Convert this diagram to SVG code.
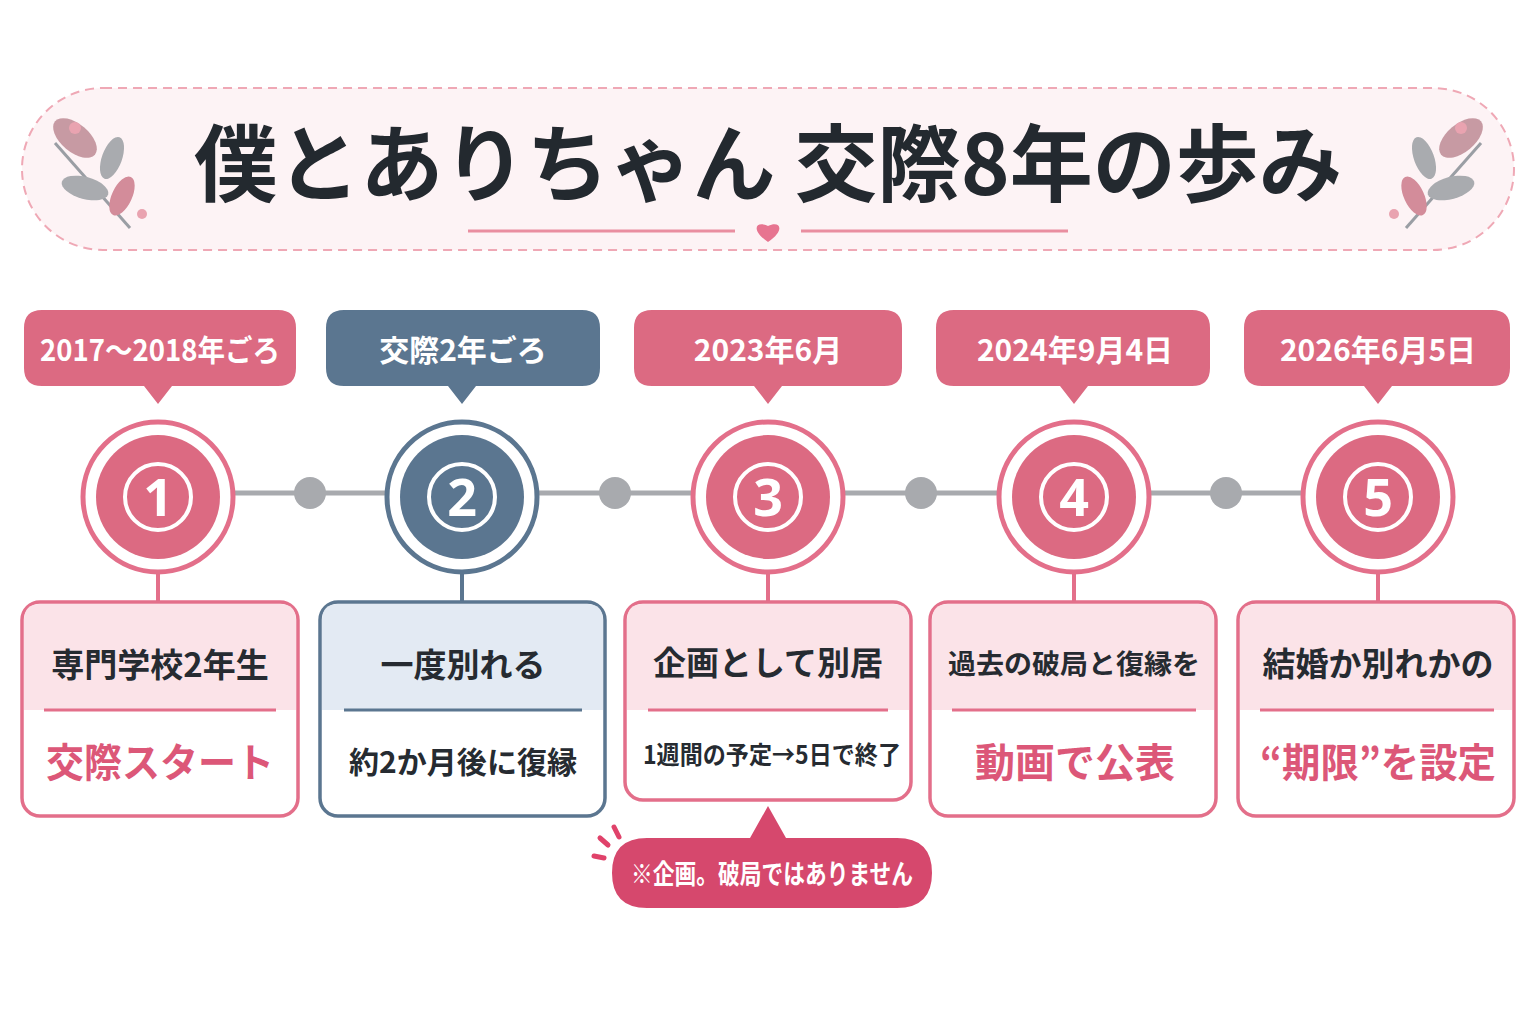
<svg xmlns="http://www.w3.org/2000/svg" width="1536" height="1024" viewBox="0 0 1536 1024">
<defs>
<style>
.jp{font-family:"Noto Sans CJK JP","Noto Sans",sans-serif;font-weight:700;text-anchor:middle}
.tag{fill:#fff;font-size:30px}
.top{fill:#262b31;font-size:33px}
.bot{font-size:40px;fill:#dc5778}
.bots{font-size:30px;fill:#262b31}
.card{fill:#fff;stroke-width:3.5}
.pk{stroke:#e36f8a}
.sl{stroke:#5b7690}
.num{fill:#fff;font-family:"Noto Sans","DejaVu Sans",sans-serif;font-weight:700;font-size:52px;text-anchor:middle}
</style>
<g id="leaf">
<path d="M0,0 L-75,-85" stroke="#9a9ea4" stroke-width="3" fill="none"/>
<ellipse cx="-55" cy="-90" rx="14" ry="26" transform="rotate(-50 -55 -90)" fill="#c79aa3"/>
<ellipse cx="-18" cy="-70" rx="10" ry="22" transform="rotate(20 -18 -70)" fill="#a9abaf"/>
<ellipse cx="-45" cy="-40" rx="11" ry="24" transform="rotate(-75 -45 -40)" fill="#a9abaf"/>
<ellipse cx="-8" cy="-32" rx="10" ry="21" transform="rotate(25 -8 -32)" fill="#d38c9a"/>
<circle cx="-55" cy="-100" r="6" fill="#e9a3b0"/>
<circle cx="12" cy="-14" r="5" fill="#e9a3b0"/>
</g>
</defs>
<rect width="1536" height="1024" fill="#fff"/>
<g id="title">
<rect x="22" y="88" width="1492" height="162" rx="81" fill="#fdf3f5" stroke="#efa8b5" stroke-width="2" stroke-dasharray="9 6"/>
<use href="#leaf" transform="translate(130,228)"/>
<use href="#leaf" transform="translate(1406,228) scale(-1,1)"/>
<text x="768" y="195" class="jp" font-size="84" fill="#23292f" textLength="1148" lengthAdjust="spacingAndGlyphs">僕とありちゃん 交際8年の歩み</text>
<line x1="468" y1="231" x2="735" y2="231" stroke="#e98ea0" stroke-width="3"/>
<line x1="801" y1="231" x2="1068" y2="231" stroke="#e98ea0" stroke-width="3"/>
<path d="M768,242 C750,230 756,220 768,226 C780,220 786,230 768,242Z" fill="#e77490"/>
</g>
<g id="connectors" fill="none">
<line x1="230" y1="493" x2="1306" y2="493" stroke="#a8aaae" stroke-width="5"/>
<g fill="#a8aaae"><circle cx="310" cy="493" r="16"/><circle cx="615" cy="493" r="16"/><circle cx="921" cy="493" r="16"/><circle cx="1226" cy="493" r="16"/></g>
<g stroke-width="4"><line x1="158" y1="570" x2="158" y2="603" stroke="#e36f8a"/><line x1="462" y1="570" x2="462" y2="603" stroke="#5b7690"/><line x1="768" y1="570" x2="768" y2="603" stroke="#e36f8a"/><line x1="1074" y1="570" x2="1074" y2="603" stroke="#e36f8a"/><line x1="1378" y1="570" x2="1378" y2="603" stroke="#e36f8a"/></g>
</g>
<g id="n1">
<path d="M42,310 H278 Q296,310 296,328 V368 Q296,386 278,386 H172 L158,404 L144,386 H42 Q24,386 24,368 V328 Q24,310 42,310Z" fill="#dc6a82"/>
<text x="160" y="361" class="jp tag" textLength="240" lengthAdjust="spacingAndGlyphs">2017〜2018年ごろ</text>
<circle cx="158" cy="497" r="75" fill="#fff" stroke="#e36f8a" stroke-width="5"/>
<circle cx="158" cy="497" r="62" fill="#dc6a82"/>
<circle cx="158" cy="497" r="33" fill="none" stroke="#fff" stroke-width="4"/>
<text x="158" y="516" class="num">1</text>
<rect x="22" y="602" width="276" height="214" rx="18" class="card pk"/>
<path d="M24,710 V620 Q24,604 40,604 H280 Q296,604 296,620 V710Z" fill="#fbe3e8"/>
<line x1="44" y1="710" x2="276" y2="710" stroke="#e36f8a" stroke-width="3"/>
<text x="160" y="677" class="jp top">専門学校2年生</text>
<text x="160" y="777" class="jp bot" textLength="228" lengthAdjust="spacingAndGlyphs">交際スタート</text>
</g>
<g id="n2">
<path d="M344,310 H582 Q600,310 600,328 V368 Q600,386 582,386 H476 L462,404 L448,386 H344 Q326,386 326,368 V328 Q326,310 344,310Z" fill="#5b7690"/>
<text x="463" y="361" class="jp tag">交際2年ごろ</text>
<circle cx="462" cy="497" r="75" fill="#fff" stroke="#5b7690" stroke-width="5"/>
<circle cx="462" cy="497" r="62" fill="#5b7690"/>
<circle cx="462" cy="497" r="33" fill="none" stroke="#fff" stroke-width="4"/>
<text x="462" y="516" class="num">2</text>
<rect x="320" y="602" width="285" height="214" rx="18" class="card sl"/>
<path d="M322,710 V620 Q322,604 338,604 H587 Q603,604 603,620 V710Z" fill="#e3eaf3"/>
<line x1="344" y1="710" x2="582" y2="710" stroke="#5b7690" stroke-width="3"/>
<text x="463" y="677" class="jp top">一度別れる</text>
<text x="463" y="773" class="jp bots" textLength="228" lengthAdjust="spacingAndGlyphs">約2か月後に復縁</text>
</g>
<g id="n3">
<path d="M652,310 H884 Q902,310 902,328 V368 Q902,386 884,386 H782 L768,404 L754,386 H652 Q634,386 634,368 V328 Q634,310 652,310Z" fill="#dc6a82"/>
<text x="768" y="361" class="jp tag">2023年6月</text>
<circle cx="768" cy="497" r="75" fill="#fff" stroke="#e36f8a" stroke-width="5"/>
<circle cx="768" cy="497" r="62" fill="#dc6a82"/>
<circle cx="768" cy="497" r="33" fill="none" stroke="#fff" stroke-width="4"/>
<text x="768" y="516" class="num">3</text>
<rect x="625" y="602" width="286" height="198" rx="18" class="card pk"/>
<path d="M627,710 V620 Q627,604 643,604 H893 Q909,604 909,620 V710Z" fill="#fbe3e8"/>
<line x1="648" y1="710" x2="888" y2="710" stroke="#e36f8a" stroke-width="3"/>
<text x="768" y="675" class="jp top">企画として別居</text>
<text x="772" y="764" class="jp" font-size="25" fill="#262b31" textLength="258" lengthAdjust="spacingAndGlyphs">1週間の予定→5日で終了</text>
</g>
<g id="note">
<path d="M647,838 H750 L768,806 L786,838 H897 Q932,838 932,873 Q932,908 897,908 H647 Q612,908 612,873 Q612,838 647,838Z" fill="#d6486d"/>
<text x="772" y="884" class="jp" font-size="27" fill="#fff" textLength="282" lengthAdjust="spacingAndGlyphs">※企画。破局ではありません</text>
<g stroke="#e0426a" stroke-width="5" stroke-linecap="round"><line x1="614" y1="827" x2="619" y2="837"/><line x1="600" y1="838" x2="608" y2="845"/><line x1="594" y1="856" x2="604" y2="858"/></g>
</g>
<g id="n4">
<path d="M954,310 H1192 Q1210,310 1210,328 V368 Q1210,386 1192,386 H1088 L1074,404 L1060,386 H954 Q936,386 936,368 V328 Q936,310 954,310Z" fill="#dc6a82"/>
<text x="1075" y="361" class="jp tag">2024年9月4日</text>
<circle cx="1074" cy="497" r="75" fill="#fff" stroke="#e36f8a" stroke-width="5"/>
<circle cx="1074" cy="497" r="62" fill="#dc6a82"/>
<circle cx="1074" cy="497" r="33" fill="none" stroke="#fff" stroke-width="4"/>
<text x="1074" y="516" class="num">4</text>
<rect x="930" y="602" width="286" height="214" rx="18" class="card pk"/>
<path d="M932,710 V620 Q932,604 948,604 H1198 Q1214,604 1214,620 V710Z" fill="#fbe3e8"/>
<line x1="952" y1="710" x2="1196" y2="710" stroke="#e36f8a" stroke-width="3"/>
<text x="1074" y="674" class="jp" font-size="27" fill="#262b31" textLength="252" lengthAdjust="spacingAndGlyphs">過去の破局と復縁を</text>
<text x="1075" y="777" class="jp bot">動画で公表</text>
</g>
<g id="n5">
<path d="M1262,310 H1492 Q1510,310 1510,328 V368 Q1510,386 1492,386 H1392 L1378,404 L1364,386 H1262 Q1244,386 1244,368 V328 Q1244,310 1262,310Z" fill="#dc6a82"/>
<text x="1378" y="361" class="jp tag">2026年6月5日</text>
<circle cx="1378" cy="497" r="75" fill="#fff" stroke="#e36f8a" stroke-width="5"/>
<circle cx="1378" cy="497" r="62" fill="#dc6a82"/>
<circle cx="1378" cy="497" r="33" fill="none" stroke="#fff" stroke-width="4"/>
<text x="1378" y="516" class="num">5</text>
<rect x="1238" y="602" width="276" height="214" rx="18" class="card pk"/>
<path d="M1240,710 V620 Q1240,604 1256,604 H1496 Q1512,604 1512,620 V710Z" fill="#fbe3e8"/>
<line x1="1260" y1="710" x2="1494" y2="710" stroke="#e36f8a" stroke-width="3"/>
<text x="1378" y="676" class="jp top">結婚か別れかの</text>
<text x="1378" y="777" class="jp bot" textLength="236" lengthAdjust="spacingAndGlyphs">“期限”を設定</text>
</g>
</svg>
